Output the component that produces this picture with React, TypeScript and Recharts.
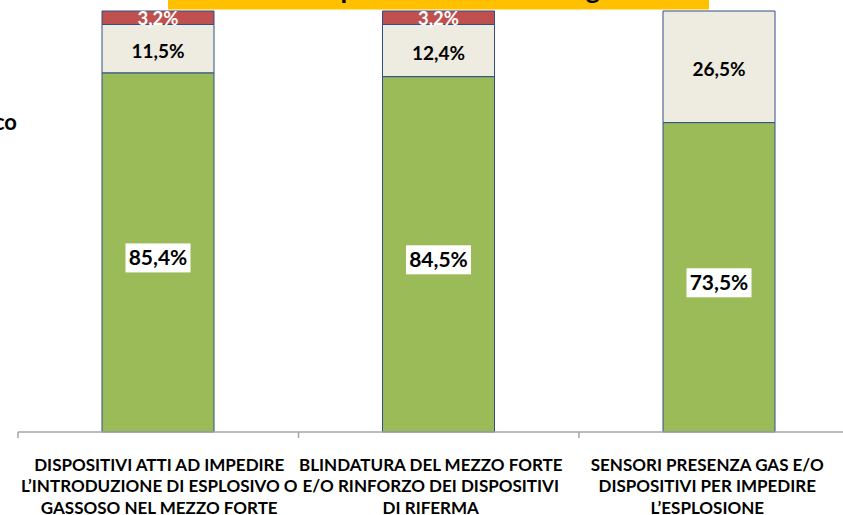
import React from 'react'
import { BarChart, Bar, XAxis, YAxis, LabelList } from 'recharts'

// category labels, already split on the lines shown under the axis
const categoryLines = [
  ['DISPOSITIVI ATTI AD IMPEDIRE', 'L’INTRODUZIONE DI ESPLOSIVO O', 'GASSOSO NEL MEZZO FORTE'],
  ['BLINDATURA DEL MEZZO FORTE', 'E/O RINFORZO DEI DISPOSITIVI', 'DI RIFERMA'],
  ['SENSORI PRESENZA GAS E/O', 'DISPOSITIVI PER IMPEDIRE', 'L’ESPLOSIONE'],
]

const altoValues = [85.4, 84.5, 73.5]
const medioValues = [11.5, 12.4, 26.5]
const bassoValues = [3.2, 3.2, 0]

const titleText = 'Il livello di importanza attribuito agli interventi'
const legendText = 'Poco'

const data = categoryLines.map((lines, i) => ({
  name: lines.join(' '),
  alto: altoValues[i],
  medio: medioValues[i],
  basso: bassoValues[i],
}))

const CHART_W = 870
const CHART_H = 515
const margin = { top: 11, right: 10.5, bottom: 0, left: 18 }
const band = (CHART_W - margin.left - margin.right) / categoryLines.length

// excel centres the wrapped labels a little off the bars
const labelShift = [1, -8, -12]

const FONT = 'Lato, "Open Sans", sans-serif'
const AXIS = '#A6A6A6'
const OUTLINE = '#2F4E87'

const fmt = (v: number) => v.toFixed(1).replace('.', ',') + '%'

function CategoryTick(props: any) {
  const { x, y, index } = props
  const lines = categoryLines[index] || []
  const cx = x + labelShift[index]
  return (
    <g>
      <line x1={x - band / 2} x2={x - band / 2} y1={y} y2={y + 6} stroke={AXIS} strokeWidth={1.5} />
      {lines.map((t, i) => (
        <text
          key={i}
          x={cx}
          y={y + 38.5 + i * 21.5}
          textAnchor="middle"
          fontFamily={FONT}
          fontWeight="bold"
          fontSize={17}
          fill="#000"
        >
          {t}
        </text>
      ))}
    </g>
  )
}

function AltoLabel(props: any) {
  const { x, y, width, height, index } = props
  const v = altoValues[index]
  if (!v) return null
  const cx = x + width / 2
  const cy = y + height / 2 + 5.5
  return (
    <g>
      <rect x={cx - 32.5} y={cy - 14.5} width={65} height={29} fill="#fff" />
      <text x={cx} y={cy + 7.5} textAnchor="middle" fontFamily={FONT} fontWeight="bold" fontSize={21} fill="#000">
        {fmt(v)}
      </text>
    </g>
  )
}

function MedioLabel(props: any) {
  const { x, y, width, height, index } = props
  const v = medioValues[index]
  if (!v) return null
  const cx = x + width / 2
  const cy = y + height / 2 + 2
  return (
    <text x={cx} y={cy + 7} textAnchor="middle" fontFamily={FONT} fontWeight="bold" fontSize={19} fill="#000">
      {fmt(v)}
    </text>
  )
}

function BassoLabel(props: any) {
  const { x, y, width, height, index } = props
  const v = bassoValues[index]
  if (!v) return null
  const cx = x + width / 2
  const cy = y + height / 2 + 1
  return (
    <text x={cx} y={cy + 6.5} textAnchor="middle" fontFamily={FONT} fontWeight="bold" fontSize={18.5} fill="#fff">
      {fmt(v)}
    </text>
  )
}

export default function App() {
  return (
    <div style={{ position: 'fixed', left: 0, top: 0, width: 843, height: 515, overflow: 'hidden', background: '#fff' }}>
      <BarChart width={CHART_W} height={CHART_H} data={data} margin={margin} stackOffset="expand" barSize={112}>
        <YAxis hide domain={[0, 1]} />
        <XAxis
          dataKey="name"
          height={83}
          interval={0}
          axisLine={{ stroke: AXIS, strokeWidth: 1.5 }}
          tickLine={false}
          tickSize={0}
          tickMargin={0}
          tick={<CategoryTick />}
        />
        <Bar dataKey="alto" stackId="s" fill="#9BBB59" stroke={OUTLINE} strokeWidth={1} isAnimationActive={false}>
          <LabelList dataKey="alto" content={AltoLabel} />
        </Bar>
        <Bar dataKey="medio" stackId="s" fill="#EEECE1" stroke={OUTLINE} strokeWidth={1} isAnimationActive={false}>
          <LabelList dataKey="medio" content={MedioLabel} />
        </Bar>
        <Bar dataKey="basso" stackId="s" fill="#C0504D" stroke={OUTLINE} strokeWidth={1} isAnimationActive={false}>
          <LabelList dataKey="basso" content={BassoLabel} />
        </Bar>
      </BarChart>

      {/* title box and legend, both cut off by the page edge */}
      <svg width={843} height={515} style={{ position: 'absolute', left: 0, top: 0, pointerEvents: 'none' }}>
        <defs>
          <clipPath id="titleClip">
            <rect x={168} y={0} width={541} height={9.5} />
          </clipPath>
        </defs>
        <rect x={168} y={0} width={541} height={9.5} fill="#FFC000" />
        <text x={184} y={-1.5} clipPath="url(#titleClip)" fontFamily={FONT} fontWeight="bold" fontSize={27} fill="#000">
          {titleText}
        </text>
        <text x={17} y={130} textAnchor="end" fontFamily={FONT} fontWeight="bold" fontSize={22} fill="#000">
          {legendText}
        </text>
      </svg>
    </div>
  )
}
